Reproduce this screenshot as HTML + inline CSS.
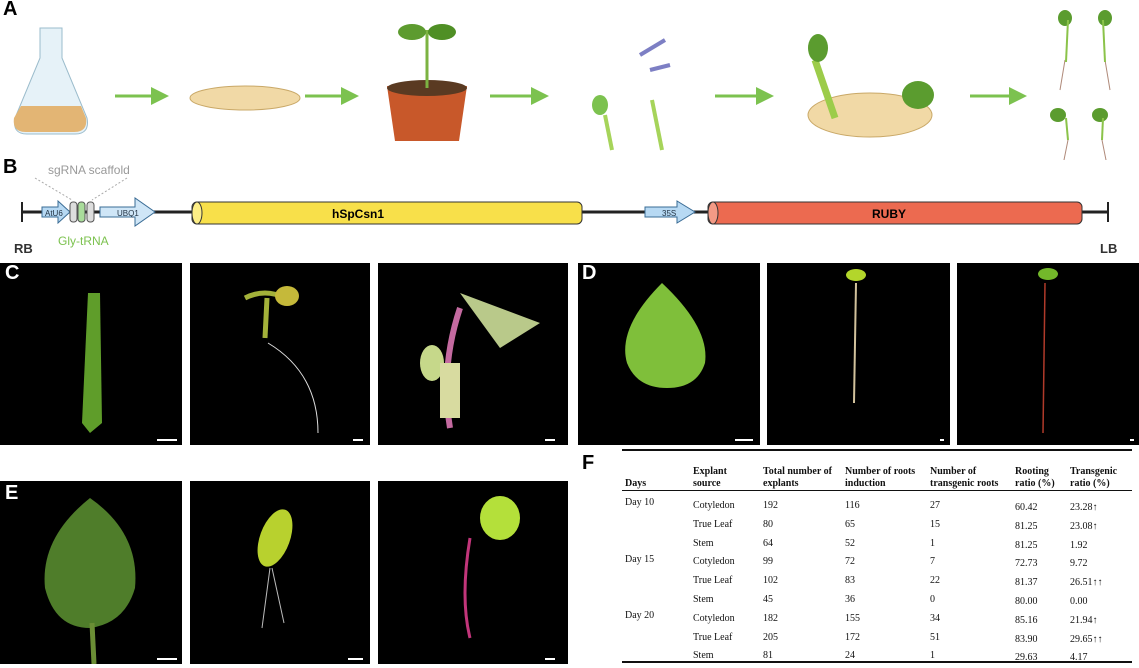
<!DOCTYPE html><html><head><style>
body{margin:0;width:1139px;height:664px;background:#fff;position:relative;overflow:hidden;font-family:"Liberation Sans",sans-serif}
.a{position:absolute}
.ph{position:absolute;background:#000}
.L{position:absolute;font-weight:bold;font-size:20px;z-index:5}
.t{position:absolute;font-family:"Liberation Serif",serif;font-size:10px;color:#111;white-space:nowrap}
</style></head><body>
<div class="L" style="left:3px;top:-2px">A</div>
<div class="L" style="left:3px;top:156px">B</div>
<div class="L" style="left:5px;top:262px;color:#fff">C</div>
<div class="L" style="left:582px;top:262px;color:#fff">D</div>
<div class="L" style="left:5px;top:482px;color:#fff">E</div>
<div class="L" style="left:582px;top:452px">F</div>
<svg class="a" style="left:0;top:0" width="1139" height="160">
<defs><marker id="g" markerWidth="6" markerHeight="6" refX="3" refY="3" orient="auto"><path d="M0,0L6,3L0,6z" fill="#7cc24f"/></marker></defs>
<path d="M40,28h22v30l25,60q3,16-12,16h-48q-15,0-12-16l25-60z" fill="#e6f2f8" stroke="#9bbccc"/>
<path d="M21,106h60l5,12q2,14-12,14h-48q-14,0-12-14z" fill="#e3b574"/>
<g stroke="#7cc24f" stroke-width="3" marker-end="url(#g)"><line x1="115" y1="96" x2="160" y2="96"/><line x1="305" y1="96" x2="350" y2="96"/><line x1="490" y1="96" x2="540" y2="96"/><line x1="715" y1="96" x2="765" y2="96"/><line x1="970" y1="96" x2="1018" y2="96"/></g>
<ellipse cx="245" cy="98" rx="55" ry="12" fill="#f1d9a6" stroke="#c9a867"/>
<path d="M387,86h80l-8,55h-64z" fill="#c8582a"/><ellipse cx="427" cy="88" rx="40" ry="8" fill="#5a3a22"/>
<line x1="427" y1="88" x2="427" y2="30" stroke="#7cb342" stroke-width="3"/><ellipse cx="412" cy="32" rx="14" ry="8" fill="#5d9b2f"/><ellipse cx="442" cy="32" rx="14" ry="8" fill="#4f8f25"/>
<ellipse cx="600" cy="105" rx="8" ry="10" fill="#7cc24f"/><line x1="605" y1="115" x2="612" y2="150" stroke="#a6d45a" stroke-width="4"/><line x1="652" y1="100" x2="662" y2="150" stroke="#a6d45a" stroke-width="4"/>
<path d="M640,55l25,-15M650,70l20,-5" stroke="#7d7fc4" stroke-width="4"/>
<ellipse cx="870" cy="115" rx="62" ry="22" fill="#f1d9a6" stroke="#c9a867"/>
<line x1="815" y1="60" x2="835" y2="118" stroke="#9ccc4a" stroke-width="7"/><ellipse cx="818" cy="48" rx="10" ry="14" fill="#5b9c2f"/><ellipse cx="918" cy="95" rx="16" ry="14" fill="#5b9c2f"/>
<g stroke="#b08a7a" fill="none"><path d="M1065,60l-5,30M1105,60l5,30M1068,140l-5,25M1102,140l5,25"/></g>
<g fill="#5b9c2f"><ellipse cx="1065" cy="18" rx="7" ry="8"/><ellipse cx="1105" cy="18" rx="7" ry="8"/><ellipse cx="1058" cy="115" rx="8" ry="7"/><ellipse cx="1100" cy="115" rx="8" ry="7"/></g>
<g stroke="#8bc34a" stroke-width="2"><line x1="1068" y1="20" x2="1066" y2="62"/><line x1="1103" y1="20" x2="1105" y2="62"/><line x1="1066" y1="118" x2="1068" y2="140"/><line x1="1103" y1="118" x2="1102" y2="140"/></g>
</svg>
<svg class="a" style="left:0;top:160" width="1139" height="100">
<text x="48" y="14" font-size="12" fill="#999" font-family="Liberation Sans">sgRNA scaffold</text>
<path d="M35,18L72,40M127,18L92,40" stroke="#aaa" stroke-dasharray="2,2"/>
<line x1="22" y1="52" x2="1108" y2="52" stroke="#222" stroke-width="3"/>
<line x1="22" y1="42" x2="22" y2="62" stroke="#222" stroke-width="2"/><line x1="1108" y1="42" x2="1108" y2="62" stroke="#222" stroke-width="2"/>
<path d="M42,47h16v-6l12,11l-12,11v-6h-16z" fill="#b7d9f3" stroke="#3a6c95"/><text x="45" y="56" font-size="8" fill="#234">AtU6</text>
<rect x="70" y="42" width="7" height="20" rx="3" fill="#ddd" stroke="#555"/><rect x="78" y="42" width="7" height="20" rx="3" fill="#a9dc9b" stroke="#555"/><rect x="87" y="42" width="7" height="20" rx="3" fill="#ddd" stroke="#555"/>
<path d="M100,47h35v-9l20,14l-20,14v-9h-35z" fill="#cfe6f7" stroke="#3a6c95"/><text x="117" y="56" font-size="8" fill="#234">UBQ1</text>
<rect x="192" y="42" width="390" height="22" rx="5" fill="#f8e04a" stroke="#333"/><ellipse cx="197" cy="53" rx="5" ry="11" fill="#fdee86" stroke="#333"/>
<text x="332" y="58" font-size="12" font-weight="bold">hSpCsn1</text>
<path d="M645,47h32v-6l18,11l-18,11v-6h-32z" fill="#b7d9f3" stroke="#3a6c95"/><text x="662" y="56" font-size="8" fill="#234">35S</text>
<rect x="708" y="42" width="374" height="22" rx="5" fill="#ec6a50" stroke="#333"/><ellipse cx="713" cy="53" rx="5" ry="11" fill="#f39a85" stroke="#333"/>
<text x="872" y="58" font-size="12" font-weight="bold">RUBY</text>
<text x="14" y="93" font-size="13" font-weight="bold" fill="#333">RB</text>
<text x="58" y="85" font-size="12" fill="#7cc24f">Gly-tRNA</text>
<text x="1100" y="93" font-size="13" font-weight="bold" fill="#333">LB</text>
</svg>
<div class="ph" style="left:0;top:263px;width:182px;height:182px"></div>
<div class="ph" style="left:190px;top:263px;width:180px;height:182px"></div>
<div class="ph" style="left:378px;top:263px;width:190px;height:182px"></div>
<div class="ph" style="left:578px;top:263px;width:182px;height:182px"></div>
<div class="ph" style="left:767px;top:263px;width:183px;height:182px"></div>
<div class="ph" style="left:957px;top:263px;width:182px;height:182px"></div>
<div class="ph" style="left:0;top:481px;width:182px;height:183px"></div>
<div class="ph" style="left:190px;top:481px;width:180px;height:183px"></div>
<div class="ph" style="left:378px;top:481px;width:190px;height:183px"></div>
<svg class="a" style="left:0;top:263px" width="1139" height="401">
<path d="M88,30l12,0l2,130l-12,10l-8,-10z" fill="#5f9d2a"/>
<path d="M265,75l2,-40M245,35q20,-10 40,0" stroke="#a3b13a" stroke-width="5" fill="none"/><ellipse cx="287" cy="33" rx="12" ry="10" fill="#c5b93a"/><path d="M268,80q50,30 50,90" stroke="#ddd" fill="none"/>
<path d="M460,45q-20,60 -10,120" stroke="#c46aa0" stroke-width="6" fill="none"/><path d="M460,30l80,30l-40,25z" fill="#b9c98a"/><ellipse cx="432" cy="100" rx="12" ry="18" fill="#c6d88a"/><rect x="440" y="100" width="20" height="55" fill="#d8dba0"/>
<path d="M662,20q-45,45 -35,80q10,25 40,25q30,0 38,-25q5,-35 -43,-80z" fill="#7fbf3a"/>
<path d="M856,20l-2,120" stroke="#d2c29c" stroke-width="2"/><ellipse cx="856" cy="12" rx="10" ry="6" fill="#b3d62b"/>
<path d="M1045,20l-2,150" stroke="#b03a2a" stroke-width="1.5"/><ellipse cx="1048" cy="11" rx="10" ry="6" fill="#73b82a"/>
<path d="M90,235q-50,40 -45,90q10,40 45,40q35,-5 45,-40q5,-55 -45,-90z" fill="#4f7d2a"/><line x1="92" y1="360" x2="94" y2="401" stroke="#6b8e35" stroke-width="5"/>
<ellipse cx="275" cy="275" rx="15" ry="30" fill="#b8d12e" transform="rotate(20 275 275)"/><path d="M270,305l-8,60M272,305l12,55" stroke="#bbb" fill="none"/>
<ellipse cx="500" cy="255" rx="20" ry="22" fill="#b4e03a"/><path d="M470,275q-10,60 0,100" stroke="#c2357a" stroke-width="3" fill="none"/>
<rect x="157" y="176" width="20" height="2" fill="#fff"/><rect x="353" y="176" width="10" height="2" fill="#fff"/><rect x="545" y="176" width="10" height="2" fill="#fff"/>
<rect x="735" y="176" width="18" height="2" fill="#fff"/><rect x="940" y="176" width="4" height="2" fill="#fff"/><rect x="1130" y="176" width="4" height="2" fill="#fff"/>
<rect x="157" y="395" width="20" height="2" fill="#fff"/><rect x="348" y="395" width="15" height="2" fill="#fff"/><rect x="545" y="395" width="10" height="2" fill="#fff"/>
</svg>
<div class="a" style="left:622px;top:449px;width:510px;height:2px;background:#111"></div>
<div class="a" style="left:622px;top:490px;width:510px;height:1px;background:#111"></div>
<div class="a" style="left:622px;top:661px;width:510px;height:2px;background:#111"></div>
<div class="t" style="left:625px;top:478px;font-weight:bold">Days</div>
<div class="t" style="left:693px;top:466px;font-weight:bold;line-height:12px">Explant<br>source</div>
<div class="t" style="left:763px;top:466px;font-weight:bold;line-height:12px">Total number of<br>explants</div>
<div class="t" style="left:845px;top:466px;font-weight:bold;line-height:12px">Number of roots<br>induction</div>
<div class="t" style="left:930px;top:466px;font-weight:bold;line-height:12px">Number of<br>transgenic roots</div>
<div class="t" style="left:1015px;top:466px;font-weight:bold;line-height:12px">Rooting<br>ratio (%)</div>
<div class="t" style="left:1070px;top:466px;font-weight:bold;line-height:12px">Transgenic<br>ratio (%)</div>
<div class="t" style="left:625px;top:497px">Day 10</div><div class="t" style="left:625px;top:554px">Day 15</div><div class="t" style="left:625px;top:610px">Day 20</div>
<div class="t" style="left:693px;top:497px;line-height:18.8px">Cotyledon<br>True Leaf<br>Stem<br>Cotyledon<br>True Leaf<br>Stem<br>Cotyledon<br>True Leaf<br>Stem</div>
<div class="t" style="left:763px;top:497px;line-height:18.8px">192<br>80<br>64<br>99<br>102<br>45<br>182<br>205<br>81</div>
<div class="t" style="left:845px;top:497px;line-height:18.8px">116<br>65<br>52<br>72<br>83<br>36<br>155<br>172<br>24</div>
<div class="t" style="left:930px;top:497px;line-height:18.8px">27<br>15<br>1<br>7<br>22<br>0<br>34<br>51<br>1</div>
<div class="t" style="left:1015px;top:499px;line-height:18.8px">60.42<br>81.25<br>81.25<br>72.73<br>81.37<br>80.00<br>85.16<br>83.90<br>29.63</div>
<div class="t" style="left:1070px;top:499px;line-height:18.8px">23.28↑<br>23.08↑<br>1.92<br>9.72<br>26.51↑↑<br>0.00<br>21.94↑<br>29.65↑↑<br>4.17</div>
</body></html>
